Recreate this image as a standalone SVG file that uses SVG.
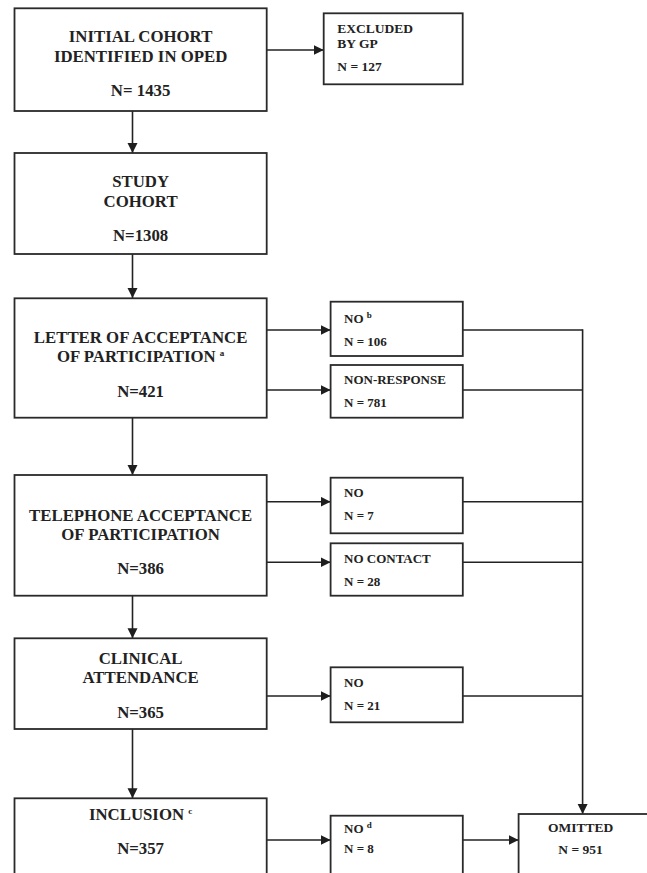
<svg xmlns="http://www.w3.org/2000/svg" width="647" height="873" viewBox="0 0 647 873">
<defs>
<marker id="ah" markerUnits="userSpaceOnUse" markerWidth="11" markerHeight="11" refX="10" refY="5" orient="auto">
<path d="M0,0 L10,5 L0,10 Z" fill="#1e1e1e"/>
</marker>
<style>
.box{fill:#fff;stroke:#2a2a2a;stroke-width:1.8}
.t{font-family:"Liberation Serif","Times New Roman",serif;font-weight:bold;fill:#222}
.m{font-size:16.8px;text-anchor:middle}
.s{font-size:13px}
.sup{font-size:9px}
.c line,.c path{stroke:#222;stroke-width:1.6;fill:none}
</style>
</defs>
<rect width="647" height="873" fill="#fff"/>
<g class="c" id="connectors">
<line x1="132.5" y1="111" x2="132.5" y2="153" marker-end="url(#ah)"/>
<line x1="132.5" y1="254" x2="132.5" y2="298" marker-end="url(#ah)"/>
<line x1="132.5" y1="417.7" x2="132.5" y2="475" marker-end="url(#ah)"/>
<line x1="132.5" y1="595.7" x2="132.5" y2="638.3" marker-end="url(#ah)"/>
<line x1="132.5" y1="729" x2="132.5" y2="798.3" marker-end="url(#ah)"/>
<line x1="266.7" y1="50" x2="323.7" y2="50" marker-end="url(#ah)"/>
<line x1="266.7" y1="330" x2="330.6" y2="330" marker-end="url(#ah)"/>
<line x1="266.7" y1="390" x2="330.6" y2="390" marker-end="url(#ah)"/>
<line x1="266.7" y1="501.7" x2="330.6" y2="501.7" marker-end="url(#ah)"/>
<line x1="266.7" y1="562.3" x2="330.6" y2="562.3" marker-end="url(#ah)"/>
<line x1="266.7" y1="696" x2="330.6" y2="696" marker-end="url(#ah)"/>
<line x1="266.7" y1="840" x2="330.6" y2="840" marker-end="url(#ah)"/>
<line x1="462.8" y1="840" x2="518.6" y2="840" marker-end="url(#ah)"/>
<line x1="462.8" y1="330" x2="582.6" y2="330"/>
<line x1="462.8" y1="390" x2="582.6" y2="390"/>
<line x1="462.8" y1="501.7" x2="582.6" y2="501.7"/>
<line x1="462.8" y1="562.3" x2="582.6" y2="562.3"/>
<line x1="462.8" y1="696" x2="582.6" y2="696"/>
<line x1="582.6" y1="329.2" x2="582.6" y2="814" marker-end="url(#ah)"/>
</g>
<g id="initial">
<rect class="box" x="14.5" y="8.3" width="252.2" height="102.7"/>
<text class="t m" x="140.6" y="42">INITIAL COHORT</text>
<text class="t m" x="140.6" y="62">IDENTIFIED IN OPED</text>
<text class="t m" x="140.6" y="96">N= 1435</text>
</g>
<g id="excluded">
<rect class="box" x="323.7" y="13.3" width="139" height="71"/>
<text class="t" x="337.3" y="33" font-size="13.5">EXCLUDED</text>
<text class="t" x="337.3" y="48" font-size="13.5">BY GP</text>
<text class="t" x="337.3" y="71" font-size="13.5">N = 127</text>
</g>
<g id="study">
<rect class="box" x="14.5" y="153" width="252.2" height="101"/>
<text class="t m" x="140.6" y="187">STUDY</text>
<text class="t m" x="140.6" y="207">COHORT</text>
<text class="t m" x="140.6" y="241">N=1308</text>
</g>
<g id="letter">
<rect class="box" x="14.5" y="298.3" width="252.2" height="119.4"/>
<text class="t m" x="140.6" y="343">LETTER OF ACCEPTANCE</text>
<text class="t m" x="140.6" y="362">OF PARTICIPATION <tspan class="sup" dy="-6">a</tspan></text>
<text class="t m" x="140.6" y="397">N=421</text>
</g>
<g id="no-b">
<rect class="box" x="330.6" y="301.7" width="132.2" height="54.3"/>
<text class="t s" x="344" y="323">NO <tspan class="sup" dy="-5">b</tspan></text>
<text class="t s" x="344" y="345.7">N = 106</text>
</g>
<g id="nonresponse">
<rect class="box" x="330.6" y="365" width="132.2" height="52.7"/>
<text class="t s" x="344" y="384">NON-RESPONSE</text>
<text class="t s" x="344" y="407">N = 781</text>
</g>
<g id="telephone">
<rect class="box" x="14.5" y="475" width="252.2" height="120.7"/>
<text class="t m" x="140.6" y="521">TELEPHONE ACCEPTANCE</text>
<text class="t m" x="140.6" y="539.5">OF PARTICIPATION</text>
<text class="t m" x="140.6" y="574">N=386</text>
</g>
<g id="no-7">
<rect class="box" x="330.6" y="477.7" width="132.2" height="55.6"/>
<text class="t s" x="344" y="496.7">NO</text>
<text class="t s" x="344" y="520">N = 7</text>
</g>
<g id="nocontact">
<rect class="box" x="330.6" y="543.3" width="132.2" height="52.4"/>
<text class="t s" x="344" y="562.7">NO CONTACT</text>
<text class="t s" x="344" y="585.7">N = 28</text>
</g>
<g id="clinical">
<rect class="box" x="14.5" y="638.3" width="252.2" height="90.7"/>
<text class="t m" x="140.6" y="664.3">CLINICAL</text>
<text class="t m" x="140.6" y="683.3">ATTENDANCE</text>
<text class="t m" x="140.6" y="717.7">N=365</text>
</g>
<g id="no-21">
<rect class="box" x="330.6" y="667.3" width="132.2" height="55"/>
<text class="t s" x="344" y="686.7">NO</text>
<text class="t s" x="344" y="710">N = 21</text>
</g>
<g id="inclusion">
<rect class="box" x="14.5" y="798.3" width="252.2" height="90"/>
<text class="t m" x="140.6" y="820">INCLUSION <tspan class="sup" dy="-6">c</tspan></text>
<text class="t m" x="140.6" y="854">N=357</text>
</g>
<g id="no-d">
<rect class="box" x="330.6" y="815.7" width="132.2" height="80"/>
<text class="t s" x="344" y="833.3">NO <tspan class="sup" dy="-5">d</tspan></text>
<text class="t s" x="344" y="853.3">N = 8</text>
</g>
<g id="omitted">
<rect class="box" x="518.6" y="814" width="140" height="80"/>
<text class="t" x="580.6" y="831.7" font-size="13.5" text-anchor="middle">OMITTED</text>
<text class="t" x="580.6" y="854" font-size="13.5" text-anchor="middle">N = 951</text>
</g>
</svg>
